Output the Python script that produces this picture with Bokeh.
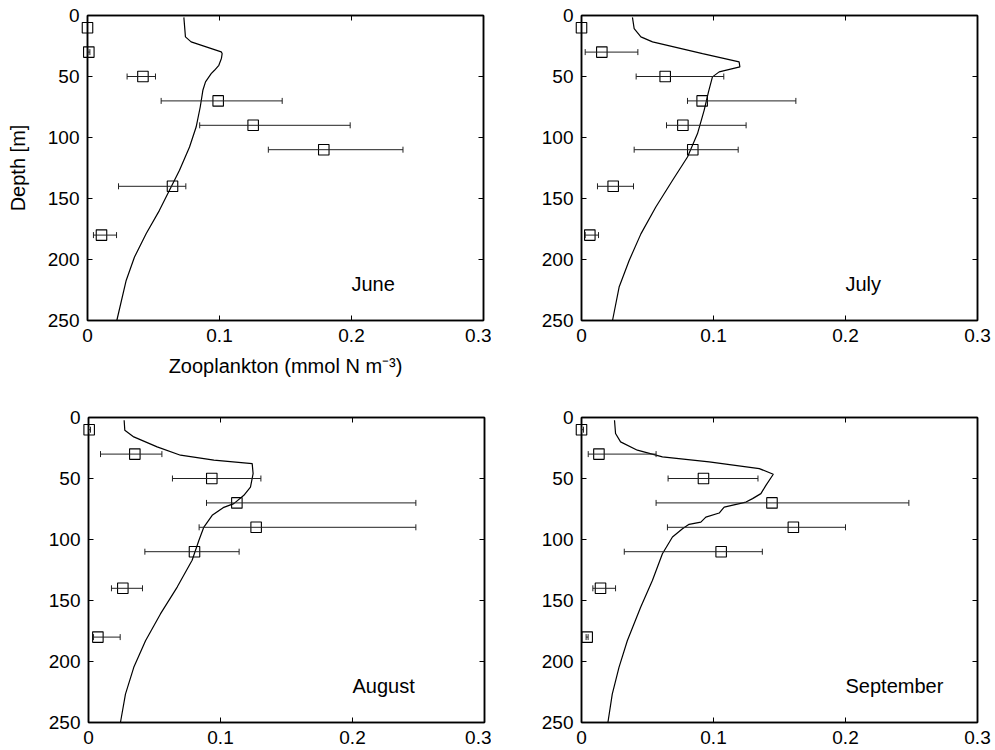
from bokeh.plotting import figure
from bokeh.layouts import column, row
from bokeh.models import (Range1d, FixedTicker, LinearAxis, Whisker, TeeHead,
                          ColumnDataSource, CustomJSTickFormatter, Label)
from bokeh.embed import file_html
from bokeh.resources import INLINE

nan = float("nan")

# ---------------- data ----------------
x_ticks = [0, 0.1, 0.2, 0.3]
x_tick_labels = ["0", "0.1", "0.2", "0.3"]
y_ticks = [0, 50, 100, 150, 200, 250]
y_tick_labels = ["0", "50", "100", "150", "200", "250"]

obs_depth = [10, 30, 50, 70, 90, 110, 140, 180]

june_obs = [0.0, 0.001, 0.042, 0.099, 0.1255, 0.179, 0.0644, 0.0106]
june_lo = [nan, 0.0003, 0.030, 0.0558, 0.085, 0.137, 0.0235, 0.0045]
june_hi = [nan, 0.0018, 0.0515, 0.1475, 0.199, 0.239, 0.0745, 0.022]

july_obs = [0.0, 0.0154, 0.0634, 0.0914, 0.0768, 0.0843, 0.024, 0.0063]
july_lo = [nan, 0.0028, 0.0414, 0.0803, 0.0644, 0.0399, 0.0121, 0.0028]
july_hi = [nan, 0.0427, 0.1078, 0.1624, 0.1247, 0.1187, 0.0394, 0.0129]

aug_obs = [0.0005, 0.0351, 0.0934, 0.1124, 0.127, 0.0803, 0.026, 0.0071]
aug_lo = [0.0, 0.0091, 0.0636, 0.0894, 0.0838, 0.0427, 0.0174, 0.0038]
aug_hi = [0.0015, 0.0556, 0.1306, 0.248, 0.248, 0.1141, 0.0409, 0.024]

sep_obs = [0.0, 0.0132, 0.0924, 0.1443, 0.1605, 0.1058, 0.0144, 0.0043]
sep_lo = [0.0, 0.0051, 0.0656, 0.0565, 0.0651, 0.0324, 0.0086, 0.0035]
sep_hi = [0.0015, 0.0565, 0.1337, 0.248, 0.200, 0.137, 0.0258, 0.005]

june_model_depth = [1.5, 17.5, 21.6, 29.8, 31.2, 35, 40.8, 44.9, 47.6, 54.4, 61.3, 75,
                    91.4, 107.8, 126.9, 143.3, 159.7, 178.9, 198, 217.2, 250]
june_model = [0.073, 0.0742, 0.0785, 0.1013, 0.102, 0.1015, 0.0995, 0.0962, 0.0937,
              0.0894, 0.0874, 0.0854, 0.0823, 0.0773, 0.0697, 0.0621, 0.0545, 0.0444,
              0.0356, 0.0293, 0.0222]

july_model_depth = [1.6, 10.7, 17.5, 21.6, 31.2, 38, 42.1, 46.2, 50.3, 62.6, 77.7, 96.8,
                    116, 135, 157, 179, 200.8, 222.6, 250]
july_model = [0.0386, 0.0399, 0.045, 0.0538, 0.0917, 0.1194, 0.120, 0.1043, 0.0992,
              0.0962, 0.0929, 0.0879, 0.0803, 0.069, 0.0563, 0.045, 0.0361, 0.0285, 0.0235]

aug_model_depth = [2.2, 10.4, 15.9, 24.1, 30.9, 35, 37.8, 46, 57, 63.8, 70.6, 73.9, 80.2,
                   89.8, 100.8, 117, 139, 161, 183, 204.8, 226.7, 250]
aug_model = [0.027, 0.0275, 0.0343, 0.052, 0.0697, 0.095, 0.124, 0.1247, 0.1227, 0.1177,
             0.1101, 0.102, 0.0937, 0.0874, 0.0836, 0.0785, 0.0672, 0.0545, 0.0432,
             0.0343, 0.028, 0.0242]

sep_model_depth = [2.2, 13.1, 20, 26.8, 32.3, 36.4, 41.9, 46.5, 55.6, 62.4, 66.5, 69.3,
                   73.4, 78.3, 81.6, 85.7, 87.6, 91.2, 98, 111.7, 133.6, 155.5, 183,
                   204.8, 226.7, 250]
sep_model = [0.025, 0.0258, 0.0296, 0.0423, 0.0613, 0.0967, 0.1347, 0.1453, 0.1397,
             0.1359, 0.1296, 0.1246, 0.1081, 0.1043, 0.0942, 0.0904, 0.0815, 0.0765,
             0.0689, 0.0613, 0.0537, 0.0448, 0.0347, 0.0284, 0.0233, 0.02]

FONT = "Liberation Sans"
TICK_SIZE = "19px"
LABEL_SIZE = "20px"


def style_axis(ax, with_labels=True):
    ax.major_tick_in = 5
    ax.major_tick_out = 0
    ax.minor_tick_line_color = None
    ax.axis_line_width = 1.5
    ax.axis_line_color = "black"
    ax.major_tick_line_color = "black"
    ax.major_tick_line_width = 1
    ax.major_label_text_font = FONT
    ax.major_label_text_color = "black"
    ax.axis_label_text_font = FONT
    ax.axis_label_text_font_style = "normal"
    ax.axis_label_text_font_size = LABEL_SIZE
    ax.axis_label_text_color = "black"
    if with_labels:
        ax.major_label_text_font_size = TICK_SIZE
        ax.major_label_standoff = 8
    else:
        ax.formatter = CustomJSTickFormatter(code="return ''")
        ax.major_label_text_font_size = "1px"
        ax.major_label_standoff = 0


def panel(name, obs, lo, hi, mdepth, mval, width, height, bl, br, bt, bb,
          xlabel=None, ylabel=None):
    p = figure(width=width, height=height, x_range=Range1d(0, 0.3),
               y_range=Range1d(250, 0), output_backend="svg", toolbar_location=None,
               min_border_left=bl, min_border_right=br, min_border_top=bt,
               min_border_bottom=bb)
    p.grid.visible = False
    p.outline_line_color = "black"
    p.outline_line_width = 1.5
    p.background_fill_color = "white"
    p.border_fill_color = "white"

    p.xaxis.ticker = FixedTicker(ticks=x_ticks)
    p.xaxis.major_label_overrides = dict(zip(x_ticks, x_tick_labels))
    p.yaxis.ticker = FixedTicker(ticks=y_ticks)
    p.yaxis.major_label_overrides = dict(zip(y_ticks, y_tick_labels))
    style_axis(p.xaxis[0])
    style_axis(p.yaxis[0])
    if xlabel:
        p.xaxis.axis_label = xlabel
        p.xaxis.axis_label_standoff = 10
    if ylabel:
        p.yaxis.axis_label = ylabel
        p.yaxis.axis_label_standoff = 16

    top = LinearAxis(ticker=FixedTicker(ticks=x_ticks))
    style_axis(top, with_labels=False)
    p.add_layout(top, "above")
    right = LinearAxis(ticker=FixedTicker(ticks=y_ticks))
    style_axis(right, with_labels=False)
    p.add_layout(right, "right")

    p.line(mval, mdepth, line_color="black", line_width=1.2)

    src = ColumnDataSource(dict(depth=obs_depth, obs=obs, lo=lo, hi=hi))
    w = Whisker(source=src, base="depth", lower="lo", upper="hi", dimension="width",
                line_color="#222222", line_width=1, level="overlay",
                upper_head=TeeHead(size=6, line_width=1, line_color="#222222"),
                lower_head=TeeHead(size=6, line_width=1, line_color="#222222"))
    p.add_layout(w)
    p.scatter("obs", "depth", source=src, marker="square", size=10.5,
              fill_color=None, line_color="black", line_width=1.1, level="overlay")

    p.add_layout(Label(x=0.2, y=220, text=name, text_font=FONT,
                       text_font_size=LABEL_SIZE, text_baseline="middle",
                       text_color="black"))
    return p


p1 = panel("June", june_obs, june_lo, june_hi, june_model_depth, june_model,
           491, 400, 87, 8, 15, 80,
           xlabel="Zooplankton (mmol N m\u207b\u00b3)", ylabel="Depth [m]")
p2 = panel("July", july_obs, july_lo, july_hi, july_model_depth, july_model,
           504, 400, 90, 18, 15, 80)
p3 = panel("August", aug_obs, aug_lo, aug_hi, aug_model_depth, aug_model,
           491, 350, 88, 7, 17, 28)
p4 = panel("September", sep_obs, sep_lo, sep_hi, sep_model_depth, sep_model,
           504, 350, 90, 18, 17, 28)

layout = column(row(p1, p2), row(p3, p4))
open("out.html", "w").write(file_html(layout, INLINE))
